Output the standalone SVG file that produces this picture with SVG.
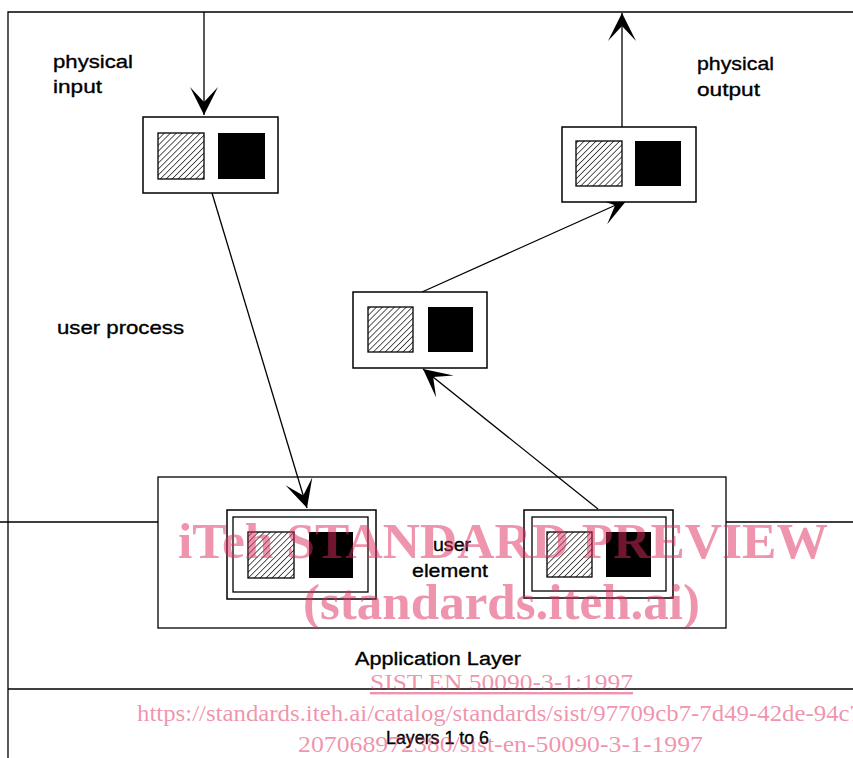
<svg xmlns="http://www.w3.org/2000/svg" width="853" height="758" viewBox="0 0 853 758">
<style>
.ln{stroke:#000;stroke-width:1.3;fill:none}
.bx{stroke:#000;stroke-width:1.5;fill:#fff}
.h{fill:url(#hatch);stroke:#000;stroke-width:1.3}
.k{fill:#000}
.t{font-family:"Liberation Sans",Arial,sans-serif;font-size:19px;fill:#000;stroke:#000;stroke-width:0.35}
.wm{font-family:"Liberation Serif","Times New Roman",serif;fill:#e0295c;fill-opacity:0.5}
.wb{font-weight:bold;font-size:50px}
.ws{font-size:24px}
</style>
<defs>
<pattern id="hatch" patternUnits="userSpaceOnUse" width="4.2" height="4.2" patternTransform="rotate(45)">
<rect width="4.2" height="4.2" fill="#fff"/>
<line x1="0" y1="0" x2="0" y2="4.2" stroke="#000" stroke-width="1.3"/>
</pattern>
<marker id="ah" markerUnits="userSpaceOnUse" markerWidth="32" markerHeight="32" viewBox="-30 -16 32 32" refX="0" refY="0" orient="auto">
<path d="M0,0 L-28,-14 L-13,0 L-28,14 Z" fill="#000"/>
</marker>
</defs>
<g id="frame">
<path class="ln" d="M8,758 V12 H853"/>
<path class="ln" d="M0,522 H158 M726,522 H853"/>
<path class="ln" d="M8,689 H853"/>
</g>
<g id="connectors">
<line class="ln" x1="204" y1="12" x2="204" y2="115" marker-end="url(#ah)"/>
<line class="ln" x1="622" y1="127" x2="622" y2="13" marker-end="url(#ah)"/>
<line class="ln" x1="212" y1="193" x2="307" y2="508" marker-end="url(#ah)"/>
<line class="ln" x1="422" y1="292" x2="627" y2="200" marker-end="url(#ah)"/>
<line class="ln" x1="598" y1="509" x2="423" y2="369" marker-end="url(#ah)"/>
</g>
<g id="physical-input-node">
<rect class="bx" x="143" y="117" width="135" height="76"/>
<rect class="h" x="158" y="133" width="46" height="46"/>
<rect class="k" x="218" y="133" width="47" height="46"/>
</g>
<g id="physical-output-node">
<rect class="bx" x="562" y="127" width="134" height="75"/>
<rect class="h" x="576" y="141" width="46" height="45"/>
<rect class="k" x="635" y="141" width="46" height="45"/>
</g>
<g id="middle-node">
<rect class="bx" x="353" y="292" width="134" height="76"/>
<rect class="h" x="368" y="307" width="45" height="45"/>
<rect class="k" x="428" y="307" width="45" height="45"/>
</g>
<g id="application-layer">
<rect class="ln" x="158" y="477" width="568" height="151"/>
</g>
<g id="user-element-left">
<rect class="bx" x="227" y="510" width="149" height="89"/>
<rect class="ln" x="233" y="517" width="135" height="75"/>
<rect class="h" x="248" y="532" width="46" height="46"/>
<rect class="k" x="309" y="532" width="44" height="46"/>
</g>
<g id="user-element-right">
<rect class="bx" x="524" y="510" width="149" height="88"/>
<rect class="ln" x="532" y="517" width="134" height="74"/>
<rect class="h" x="547" y="532" width="45" height="45"/>
<rect class="k" x="606" y="532" width="45" height="45"/>
</g>
<g id="labels">
<text class="t" x="53" y="68" textLength="80" lengthAdjust="spacingAndGlyphs">physical</text>
<text class="t" x="53" y="93" textLength="49" lengthAdjust="spacingAndGlyphs">input</text>
<text class="t" x="697" y="70" textLength="77" lengthAdjust="spacingAndGlyphs">physical</text>
<text class="t" x="697" y="96" textLength="63" lengthAdjust="spacingAndGlyphs">output</text>
<text class="t" x="57" y="334" textLength="127" lengthAdjust="spacingAndGlyphs">user process</text>
<text class="t" x="433" y="551" textLength="38" lengthAdjust="spacingAndGlyphs">user</text>
<text class="t" x="412" y="577" textLength="76" lengthAdjust="spacingAndGlyphs">element</text>
<text class="t" x="355" y="665" textLength="166" lengthAdjust="spacingAndGlyphs">Application Layer</text>
<text class="t" x="386" y="744" textLength="103" lengthAdjust="spacingAndGlyphs">Layers 1 to 6</text>
</g>
<g id="watermark">
<text class="wm wb" x="178" y="558" textLength="650" lengthAdjust="spacingAndGlyphs">iTeh STANDARD PREVIEW</text>
<text class="wm wb" x="303" y="619" textLength="397" lengthAdjust="spacingAndGlyphs">(standards.iteh.ai)</text>
<text class="wm ws" x="370" y="690" textLength="263" lengthAdjust="spacingAndGlyphs" text-decoration="underline">SIST EN 50090-3-1:1997</text>
<text class="wm ws" x="137" y="721" textLength="725" lengthAdjust="spacingAndGlyphs">https://standards.iteh.ai/catalog/standards/sist/97709cb7-7d49-42de-94c7</text>
<text class="wm ws" x="298" y="752" textLength="405" lengthAdjust="spacingAndGlyphs">207068972380/sist-en-50090-3-1-1997</text>
</g>
</svg>
